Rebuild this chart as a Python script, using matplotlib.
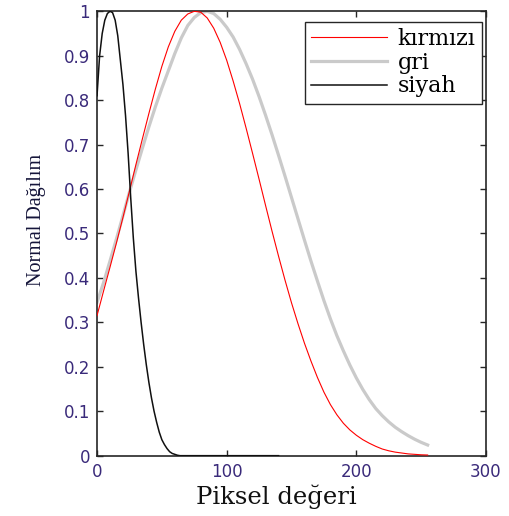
import matplotlib
matplotlib.use("Agg")
import matplotlib.pyplot as plt

# ---------------------------------------------------------------------------
# Data
# ---------------------------------------------------------------------------
x_rg = [0, 5, 10, 15, 20, 25, 30, 35, 40, 45, 50, 55, 60, 65, 70, 75, 80, 85,
        90, 95, 100, 105, 110, 115, 120, 125, 130, 135, 140, 145, 150, 155,
        160, 165, 170, 175, 180, 185, 190, 195, 200, 205, 210, 215, 220, 225,
        230, 235, 240, 245, 250, 255]

kirmizi = [0.315, 0.370, 0.424, 0.479, 0.536, 0.595, 0.655, 0.713, 0.770,
           0.825, 0.876, 0.920, 0.955, 0.980, 0.994, 1.000, 0.998, 0.985,
           0.962, 0.930, 0.890, 0.843, 0.792, 0.737, 0.680, 0.622, 0.563,
           0.505, 0.449, 0.395, 0.344, 0.297, 0.253, 0.213, 0.176, 0.143,
           0.115, 0.092, 0.073, 0.058, 0.046, 0.036, 0.028, 0.021, 0.015,
           0.011, 0.008, 0.006, 0.004, 0.003, 0.002, 0.0015]

gri = [0.345, 0.389, 0.438, 0.488, 0.540, 0.593, 0.643, 0.692, 0.740, 0.785,
       0.827, 0.866, 0.905, 0.940, 0.968, 0.986, 0.997, 1.000, 0.995, 0.982,
       0.964, 0.942, 0.914, 0.882, 0.847, 0.808, 0.766, 0.722, 0.676, 0.629,
       0.581, 0.533, 0.485, 0.438, 0.393, 0.349, 0.308, 0.270, 0.236, 0.204,
       0.175, 0.149, 0.126, 0.106, 0.090, 0.076, 0.064, 0.054, 0.045, 0.037,
       0.030, 0.024]

x_siyah = [0, 2, 4, 6, 8, 10, 12, 14, 16, 18, 20, 22, 24, 26, 28, 30, 32, 34,
           36, 38, 40, 42, 44, 46, 48, 50, 52, 54, 56, 58, 60, 62, 64, 80,
           100, 120, 140]
siyah = [0.81, 0.90, 0.95, 0.98, 0.995, 1.0, 0.997, 0.98, 0.945, 0.89, 0.835,
         0.765, 0.68, 0.58, 0.49, 0.415, 0.355, 0.30, 0.25, 0.205, 0.165, 0.13,
         0.10, 0.075, 0.053, 0.036, 0.025, 0.016, 0.009, 0.005, 0.003, 0.001,
         0.0, 0.0, 0.0, 0.0, 0.0]

labels = ["kırmızı", "gri", "siyah"]

TICK_COLOR = "#3a2a7a"

# ---------------------------------------------------------------------------
# Figure
# ---------------------------------------------------------------------------
fig = plt.figure(figsize=(5.09, 5.16), dpi=100)
ax = fig.add_axes([0.1906, 0.1169, 0.7642, 0.8612])

ax.plot(x_rg, kirmizi, color="#ff0000", lw=0.8, label=labels[0], zorder=3)
ax.plot(x_rg, gri, color="#cacaca", lw=2.3, label=labels[1], zorder=2)
ax.plot(x_siyah, siyah, color="#101010", lw=1.1, label=labels[2], zorder=4)

ax.set_xlim(0, 300)
ax.set_ylim(0, 1)
ax.set_xticks([0, 100, 200, 300])
ax.set_yticks([i / 10 for i in range(11)])
ax.set_yticklabels(["0", "0.1", "0.2", "0.3", "0.4", "0.5", "0.6", "0.7",
                    "0.8", "0.9", "1"])
ax.tick_params(direction="in", length=4.5, width=1.0, top=True, right=True,
               labelsize=12, labelcolor=TICK_COLOR, color="#262626", pad=5)
for sp in ax.spines.values():
    sp.set_linewidth(1.2)
    sp.set_color("#262626")

ax.set_xlabel("Piksel değeri", family="DejaVu Serif", fontsize=17.5,
              color="#111111", labelpad=3)
ax.xaxis.label.set_x(0.46)
ax.set_ylabel("Normal Dağılım", family="Liberation Serif", fontsize=14.5,
              color="#15153a", labelpad=13)
ax.yaxis.label.set_y(0.53)

leg = ax.legend(loc="upper right", bbox_to_anchor=(0.989, 0.9766),
                borderaxespad=0, fancybox=False, framealpha=1,
                edgecolor="#262626", handlelength=3.4, handletextpad=0.5,
                labelspacing=0.08, borderpad=0.28,
                prop={"family": "DejaVu Serif", "size": 16})
leg.get_frame().set_linewidth(1.0)

fig.savefig("out.png", dpi=100)
